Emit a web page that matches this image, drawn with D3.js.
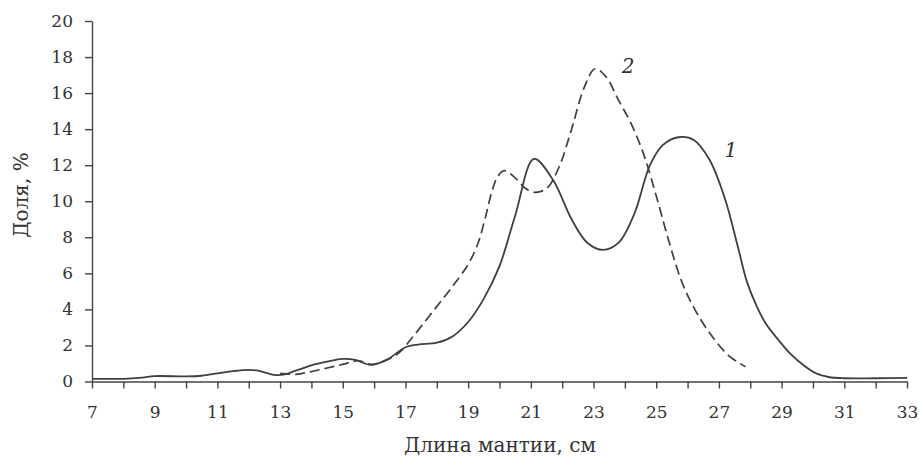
<!DOCTYPE html>
<html>
<head>
<meta charset="utf-8">
<script src="https://cdn.jsdelivr.net/npm/d3@7"></script>
<style>
  html, body { margin: 0; padding: 0; background: #fff; }
  svg { display: block; }
  .axis path, .axis line { stroke: #444; stroke-width: 1.4; }
  .axis text { font-family: "DejaVu Serif", serif; font-size: 17px; fill: #333; }
</style>
</head>
<body>
<svg id="chart" width="919" height="461"></svg>
<script>
// Mantle length distribution (cm) and share (%) for two samples
const lenSeries1 = [7.0, 8.0, 8.6, 9.0, 10.0, 10.5, 11.0, 11.5, 12.0, 12.3, 12.8, 13.1, 13.5, 14.0, 14.5, 15.0, 15.4, 15.9, 16.4, 17.0, 17.4, 18.0, 18.5, 19.0, 19.5, 20.0, 20.5, 21.1, 21.7, 22.3, 22.8, 23.3, 23.8, 24.3, 24.8, 25.2, 25.7, 26.2, 26.7, 27.2, 27.6, 27.9, 28.2, 28.5, 28.9, 29.3, 29.7, 30.1, 30.5, 31.0, 32.0, 33.0];
const shareSeries1 = [0.15, 0.15, 0.22, 0.3, 0.28, 0.32, 0.45, 0.58, 0.65, 0.6, 0.37, 0.38, 0.6, 0.9, 1.1, 1.25, 1.2, 0.92, 1.2, 1.9, 2.05, 2.15, 2.5, 3.3, 4.6, 6.4, 9.2, 12.35, 11.2, 9.0, 7.7, 7.3, 7.7, 9.3, 12.0, 13.1, 13.55, 13.4, 12.3, 10.1, 7.5, 5.5, 4.2, 3.2, 2.3, 1.5, 0.9, 0.45, 0.25, 0.18, 0.18, 0.2];

const lenSeries2 = [13.0, 13.5, 14.0, 14.5, 15.0, 15.5, 15.9, 16.4, 16.8, 17.2, 17.7, 18.2, 18.6, 19.0, 19.3, 19.55, 19.75, 19.95, 20.15, 20.5, 20.8, 21.1, 21.5, 21.9, 22.3, 22.7, 23.05, 23.4, 23.8, 24.2, 24.6, 25.0, 25.4, 25.8, 26.2, 26.7, 27.3, 27.85];
const shareSeries2 = [0.45, 0.4, 0.55, 0.75, 0.95, 1.15, 0.95, 1.2, 1.6, 2.4, 3.5, 4.6, 5.5, 6.5, 7.6, 9.1, 10.5, 11.4, 11.7, 11.3, 10.75, 10.5, 10.7, 11.9, 14.0, 16.3, 17.35, 16.9, 15.6, 14.3, 12.6, 10.3, 7.8, 5.6, 4.1, 2.7, 1.45, 0.82];

const xTicks = d3.range(7, 34, 1);
const xLabelTicks = d3.range(7, 34, 2);
const yTicks = d3.range(0, 21, 2);

const seriesLabels = [
  { text: "1", x: 27.38, y: 12.45 },
  { text: "2", x: 24.1, y: 17.1 }
];

const svg = d3.select("#chart");
const x = d3.scaleLinear().domain([7, 33]).range([92, 907]);
const y = d3.scaleLinear().domain([0, 20]).range([381.5, 21]);

// y axis
svg.append("g")
  .attr("class", "axis")
  .attr("transform", `translate(${x(7)},0)`)
  .call(d3.axisLeft(y).tickValues(yTicks).tickSize(7).tickSizeOuter(0).tickPadding(12));

// x axis: minor ticks every cm, labels on odd values
svg.append("g")
  .attr("class", "axis")
  .attr("transform", `translate(0,${y(0)})`)
  .call(d3.axisBottom(x).tickValues(xTicks).tickSize(7).tickSizeOuter(0).tickPadding(17)
    .tickFormat(d => xLabelTicks.includes(d) ? d : ""));

const line = d3.line()
  .x(d => x(d[0]))
  .y(d => y(d[1]))
  .curve(d3.curveCatmullRom.alpha(0.5));

svg.append("path")
  .datum(d3.zip(lenSeries1, shareSeries1))
  .attr("d", line)
  .attr("fill", "none")
  .attr("stroke", "#3f3f3f")
  .attr("stroke-width", 1.8);

svg.append("path")
  .datum(d3.zip(lenSeries2, shareSeries2))
  .attr("d", line)
  .attr("fill", "none")
  .attr("stroke", "#3f3f3f")
  .attr("stroke-width", 1.7)
  .attr("stroke-dasharray", "10,5");

// curve labels
svg.selectAll("text.series-label")
  .data(seriesLabels)
  .enter().append("text")
  .attr("class", "series-label")
  .attr("x", d => x(d.x))
  .attr("y", d => y(d.y))
  .attr("text-anchor", "middle")
  .attr("font-family", "DejaVu Serif, serif")
  .attr("font-style", "italic")
  .attr("font-size", 20)
  .attr("fill", "#333")
  .text(d => d.text);

// axis titles
svg.append("text")
  .attr("x", 500)
  .attr("y", 452)
  .attr("text-anchor", "middle")
  .attr("font-family", "DejaVu Serif, serif")
  .attr("font-size", 20)
  .attr("fill", "#333")
  .text("Длина мантии, см");

svg.append("text")
  .attr("transform", "translate(28,195) rotate(-90)")
  .attr("text-anchor", "middle")
  .attr("font-family", "DejaVu Serif, serif")
  .attr("font-size", 20)
  .attr("fill", "#333")
  .text("Доля, %");
</script>
</body>
</html>
